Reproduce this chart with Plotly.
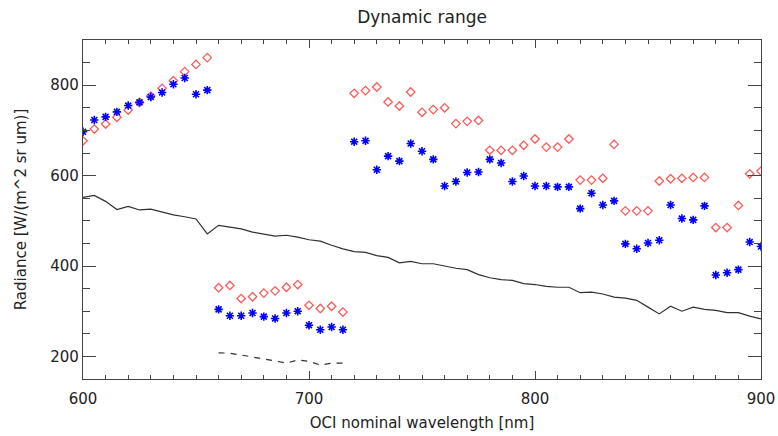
import plotly.graph_objects as go

wavelength = [600, 605, 610, 615, 620, 625, 630, 635, 640, 645, 650, 655,
              660, 665, 670, 675, 680, 685, 690, 695, 700, 705, 710, 715,
              720, 725, 730, 735, 740, 745, 750, 755, 760, 765, 770, 775,
              780, 785, 790, 795, 800, 805, 810, 815, 820, 825, 830, 835,
              840, 845, 850, 855, 860, 865, 870, 875, 880, 885, 890, 895, 900]

red_diamonds = [677, 703, 714, 729, 745, 762, 776, 793, 810, 830, 846, 861,
                352, 357, 328, 332, 340, 345, 353, 359, 313, 306, 311, 298,
                782, 788, 796, 763, 754, 785, 740, 746, 750, 715, 720, 722,
                656, 656, 656, 667, 681, 663, 663, 681, 590, 590, 594, 669,
                522, 522, 522, 588, 593, 594, 596, 596, 485, 485, 534, 604, 610]

blue_asterisks = [697, 723, 730, 741, 755, 762, 774, 784, 802, 816, 780, 789,
                  304, 290, 290, 296, 288, 284, 296, 300, 269, 259, 265, 259,
                  675, 677, 613, 643, 632, 671, 654, 636, 577, 587, 607, 608,
                  636, 628, 587, 599, 577, 577, 575, 575, 527, 561, 535, 544,
                  449, 438, 451, 457, 535, 505, 502, 533, 380, 385, 392, 453, 443]

solid_line = [552, 556, 543, 525, 532, 524, 526, 519, 513, 509, 504, 471,
              490, 486, 482, 475, 471, 466, 468, 464, 458, 455, 446, 438,
              432, 430, 423, 419, 407, 410, 405, 405, 400, 395, 392, 381,
              374, 370, 368, 361, 359, 355, 353, 353, 341, 342, 338, 331,
              329, 324, 309, 294, 311, 300, 309, 304, 302, 297, 297, 289, 283]

dash_wavelength = [660, 665, 670, 675, 680, 685, 690, 695, 700, 705, 710, 715]
dash_line = [208, 207, 203, 199, 194, 190, 185, 192, 189, 181, 185, 185]

x_ticks = [600, 700, 800, 900]
y_ticks = [200, 400, 600, 800]

font_family = "DejaVu Sans"
axis_color = "#444444"

fig = go.Figure()

fig.add_trace(go.Scatter(
    x=wavelength, y=solid_line, mode="lines",
    line=dict(color="#303030", width=1.2), showlegend=False))

fig.add_trace(go.Scatter(
    x=dash_wavelength, y=dash_line, mode="lines",
    line=dict(color="#303030", width=1.2, dash="6px,6px"), showlegend=False))

fig.add_trace(go.Scatter(
    x=wavelength, y=red_diamonds, mode="markers",
    marker=dict(symbol="diamond-open", size=6.5, color="#ff5a5a",
                line=dict(color="#ff5a5a", width=1.3)),
    showlegend=False))

fig.add_trace(go.Scatter(
    x=wavelength, y=blue_asterisks, mode="markers",
    marker=dict(symbol="asterisk-open", size=7, color="#0000ff",
                line=dict(color="#1010ff", width=1.6)),
    showlegend=False))

fig.update_layout(
    width=778, height=436,
    margin=dict(l=83, r=17, t=40, b=57, autoexpand=False),
    paper_bgcolor="white", plot_bgcolor="white",
    font=dict(family=font_family, size=15, color="#222222"),
    title=dict(text="Dynamic range", x=0.5425, xanchor="center",
               y=0.96, yanchor="middle",
               font=dict(family=font_family, size=17, color="#222222")),
)

fig.update_xaxes(
    range=[600, 900], tickvals=x_ticks, ticktext=[str(v) for v in x_ticks],
    ticks="inside", ticklen=8, tickcolor=axis_color, tickwidth=1,
    showline=True, linecolor=axis_color, linewidth=1.2, mirror="allticks",
    showgrid=False, zeroline=False, automargin=False,
    ticklabelstandoff=6,
    minor=dict(dtick=10, tick0=600, ticks="inside", ticklen=4, tickcolor=axis_color),
    title=dict(text="OCI nominal wavelength [nm]", standoff=10,
               font=dict(family=font_family, size=15)),
    tickfont=dict(family=font_family, size=15),
)

fig.update_yaxes(
    range=[150, 900], tickvals=y_ticks, ticktext=[str(v) for v in y_ticks],
    ticks="inside", ticklen=13, tickcolor=axis_color, tickwidth=1,
    showline=True, linecolor=axis_color, linewidth=1.2, mirror="allticks",
    showgrid=False, zeroline=False, automargin=False,
    minor=dict(dtick=50, tick0=150, ticks="inside", ticklen=7, tickcolor=axis_color),
    title=dict(text="Radiance [W/(m^2 sr um)]", standoff=20,
               font=dict(family=font_family, size=15)),
    tickfont=dict(family=font_family, size=15),
)

fig.write_html("out.html")
